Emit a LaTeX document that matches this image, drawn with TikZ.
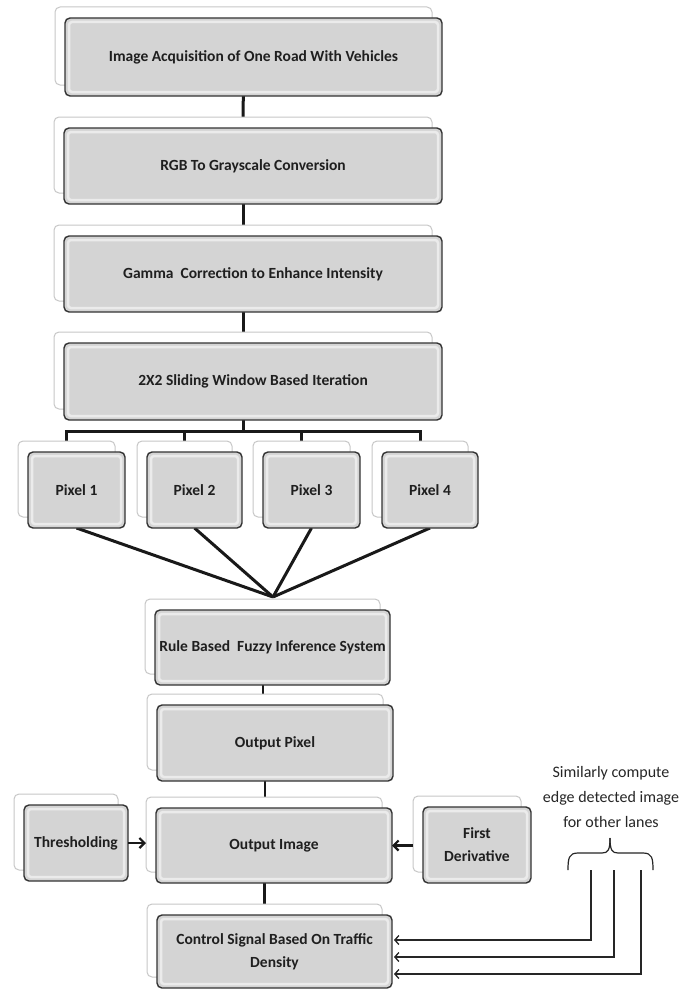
\documentclass[tikz,border=0pt]{standalone}
\usepackage{fontspec}
\setmainfont{Carlito}
\usetikzlibrary{arrows.meta,backgrounds}
\newcommand\twobox[6]{%
  \node[backbox, minimum width=#4pt, minimum height=#5pt] (#1s) at (#2-10,#3-11) {};
  \node[frontbox, minimum width=#4pt, minimum height=#5pt] (#1) at (#2,#3) {#6};}
\begin{document}
\begin{tikzpicture}[x=1pt,y=-1pt,
  frontbox/.style={draw=black!80, line width=1.4pt, rounded corners=5pt, fill=black!17,
    align=center, font=\bfseries\fontsize{15.5}{23}\selectfont, text=black!88,
    inner sep=2pt, outer sep=0pt,
    path picture={\draw[white, opacity=0.55, line width=2.5pt, rounded corners=3pt]
      ([shift={(4pt,-4pt)}]path picture bounding box.north west) rectangle
      ([shift={(-4pt,4pt)}]path picture bounding box.south east);}},
  backbox/.style={draw=black!22, line width=1pt, rounded corners=5pt, fill=white,
    inner sep=0pt, outer sep=0pt},
  link/.style={line width=3pt, black!90},
  arr/.style={line width=2.2pt, black!90, -{Straight Barb[length=5pt,width=10pt]}},
  thinarr/.style={line width=1.3pt, black!85, -{Straight Barb[length=4pt,width=9pt]}, shorten >=2pt},
  notetext/.style={align=center, font=\fontsize{16}{25}\selectfont, text=black!85}]
\useasboundingbox (0,0) rectangle (692,990);

\twobox{b1}{253.5}{57}{377}{78}{Image Acquisition of One Road With Vehicles}
\twobox{b2}{253}{166}{378}{76}{RGB To Grayscale Conversion}
\twobox{b3}{253}{274}{378}{76}{Gamma\ \ Correction to Enhance Intensity}
\twobox{b4}{253}{381.5}{378}{77}{2X2 Sliding Window Based Iteration}

\twobox{p1}{76.5}{490}{97}{76}{Pixel 1}
\twobox{p2}{194.5}{490}{95}{76}{Pixel 2}
\twobox{p3}{311.5}{490}{97}{76}{Pixel 3}
\twobox{p4}{430}{490}{96}{76}{Pixel 4}

\twobox{fz}{272.5}{647.5}{235}{75}{Rule Based\ \ Fuzzy Inference System}
\twobox{op}{275}{743}{236}{76}{Output Pixel}
\twobox{oi}{274}{845.5}{236}{75}{Output Image}
\twobox{th}{76}{843}{104}{76}{Thresholding}
\twobox{fd}{477}{845}{108}{76}{First\\Derivative}
\twobox{cs}{274.5}{951.5}{235}{73}{Control Signal Based On Traffic\\Density}

\coordinate (tj) at (243,431);
\coordinate (conv) at (273,597);
\coordinate (v1) at (591,870);
\coordinate (v2) at (614,870);
\coordinate (v3) at (641,870);

\begin{scope}[on background layer]
  \fill[white] (0,0) rectangle (692,990);
  \draw[link] (b1s.south) -- (b2s.north);
  \draw[link] (b2s.south) -- (b3s.north);
  \draw[link] (b3s.south) -- (b4s.north);
  \draw[link] (b4s.south) -- (tj);
  \draw[link] (p1s.north) -- (p1s.north |- tj) -- (p4s.north |- tj) -- (p4s.north);
  \draw[link] (p2s.north) -- (p2s.north |- tj);
  \draw[link] (p3s.north) -- (p3s.north |- tj);
  \draw[link] (p1.south) -- (conv);
  \draw[link] (p2.south) -- (conv);
  \draw[link] (p3.south) -- (conv);
  \draw[link] (p4.south) -- (conv);
  \draw[link, line width=2pt] (fzs.south) -- (fzs.south |- ops.north);
  \draw[link, line width=2pt] (ops.south) -- (ops.south |- ois.north);
  \draw[link] (ois.south) -- (ois.south |- css.north);
\end{scope}

\draw[arr] (th.east) -- (th.east -| ois.west);
\draw[arr] (fds.west |- oi.east) -- (oi.east);

\draw[thinarr] (v1) |- ([yshift=11.5pt]cs.east);
\draw[thinarr] (v2) |- ([yshift=-5.5pt]cs.east);
\draw[thinarr] (v3) |- ([yshift=-22.5pt]cs.east);

\draw[line width=1.2pt, black!85] (568,870) .. controls (568,858) and (569,853) .. (578,853)
  -- (602,853) .. controls (608,853) and (610,850) .. (610,838);
\draw[line width=1.2pt, black!85] (653,870) .. controls (653,858) and (652,853) .. (643,853)
  -- (618,853) .. controls (612,853) and (610,850) .. (610,838);

\node[notetext] (note) at (611,797) {Similarly compute\\edge detected image\\for other lanes};
\end{tikzpicture}
\end{document}
